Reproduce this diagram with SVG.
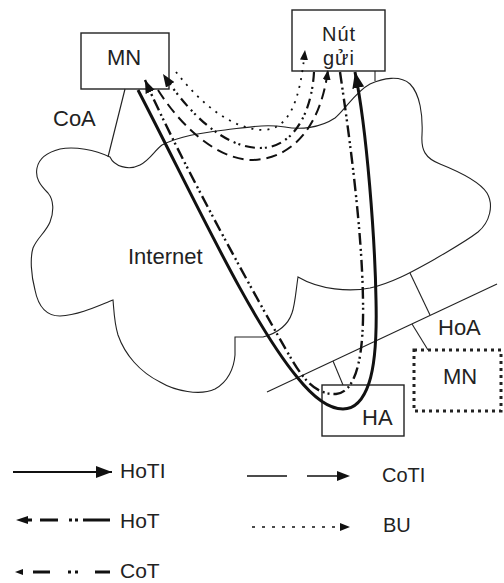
<svg xmlns="http://www.w3.org/2000/svg" width="504" height="583" viewBox="0 0 504 583">
<style>
.lbl{font-family:"Liberation Sans",Arial,sans-serif;font-size:22px;fill:#222}
.nl{font-family:"Liberation Sans",Arial,sans-serif;font-size:20px;letter-spacing:1px;fill:#222}
.lg{font-family:"Liberation Sans",Arial,sans-serif;font-size:21px;fill:#222}
.lg2{font-family:"Liberation Sans",Arial,sans-serif;font-size:20px;fill:#222}
.box{fill:none;stroke:#222;stroke-width:1.4}
.thin{fill:none;stroke:#222;stroke-width:1.1}
.c{fill:none;stroke:#111;stroke-linecap:butt}
.hoti{stroke-width:3}
.hot{stroke-width:2.4;stroke-dasharray:12 4 2 3 2 4}
.coti{stroke-width:2;stroke-dasharray:11 6}
.cot{stroke-width:2.2;stroke-dasharray:10 5 2 3 2 5}
.bu{stroke-width:1.8;stroke-dasharray:2 6}
</style>
<defs>
<marker id="ahL" viewBox="0 0 16 12" refX="16" refY="6" markerWidth="16" markerHeight="12" markerUnits="userSpaceOnUse" orient="auto"><path d="M0,0 L16,6 L0,12 z" fill="#111"/></marker>
<marker id="ahM" viewBox="0 0 13 10" refX="13" refY="5" markerWidth="13" markerHeight="10" markerUnits="userSpaceOnUse" orient="auto"><path d="M0,0 L13,5 L0,10 z" fill="#111"/></marker>
<marker id="ahS" viewBox="0 0 10 8" refX="10" refY="4" markerWidth="10" markerHeight="8" markerUnits="userSpaceOnUse" orient="auto"><path d="M0,0 L10,4 L0,8 z" fill="#111"/></marker>
<marker id="stM" viewBox="0 0 12 8" refX="0" refY="4" markerWidth="12" markerHeight="8" markerUnits="userSpaceOnUse" orient="auto-start-reverse"><path d="M0,0 L12,4 L0,8 z" fill="#111"/></marker>
<marker id="stS" viewBox="0 0 8 6" refX="0" refY="3" markerWidth="8" markerHeight="6" markerUnits="userSpaceOnUse" orient="auto-start-reverse"><path d="M0,0 L8,3 L0,6 z" fill="#111"/></marker>
</defs>
<rect x="0" y="0" width="504" height="583" fill="#fff"/>

<g id="internet">
<path class="thin" d="M110,157 C114,166 128,171 140,165 C150,160 155,150 162,145 C180,136 200,133 225,130 C250,127 265,124 285,127 C300,130 320,128 335,118 C345,110 355,92 370,84 C383,78 400,75 410,84 C420,94 423,115 422,135 C421,150 425,158 440,164 C460,172 480,182 487,193 C494,205 490,222 478,232 C465,242 450,250 435,259 C415,270 395,282 370,288 C350,292 320,290 298,277 C296,290 295,305 292,313 C288,325 278,333 263,337 L235,337 L235,355 C234,368 228,382 215,389 C200,396 175,391 160,382 C140,372 125,355 118,335 C114,322 114,310 113,300 C100,305 80,315 60,316 C45,316 38,305 35,290 C31,275 30,258 33,248 C37,238 46,232 50,222 C54,212 54,200 48,193 C40,185 35,178 37,168 C39,158 48,152 60,149 C75,146 95,150 110,157 Z"/>
<text class="lbl" x="128" y="264">Internet</text>
</g>

<g id="links">
<line class="thin" x1="125" y1="89" x2="108" y2="157"/>
<line class="thin" x1="375" y1="71" x2="375" y2="81"/>
<line class="thin" x1="267" y1="392" x2="497" y2="284"/>
<line class="thin" x1="410" y1="273" x2="430" y2="315"/>
<line class="thin" x1="412" y1="324" x2="428" y2="350"/>
<line class="thin" x1="333" y1="361" x2="343" y2="385"/>
<text class="lbl" x="53" y="126">CoA</text>
<text class="lbl" x="438" y="335">HoA</text>
</g>

<g id="mn">
<rect class="box" x="81" y="33" width="88" height="56"/>
<text class="lbl" x="107" y="65">MN</text>
</g>

<g id="nut-gui">
<rect class="box" x="292" y="10" width="93" height="61"/>
<text class="nl" x="322" y="41">Nút</text>
<text class="nl" x="323" y="65">gửi</text>
</g>

<g id="ha">
<rect class="box" x="322" y="385" width="82" height="51"/>
<text class="lbl" x="362" y="425">HA</text>
</g>

<g id="mn-home">
<rect x="414" y="350" width="87" height="61" fill="none" stroke="#222" stroke-width="3" stroke-dasharray="3 4"/>
<text class="lbl" x="443" y="384">MN</text>
</g>

<g id="connectors">
<path class="c hoti" marker-end="url(#ahL)" d="M138,90 C195,200 250,320 297,377 C313,397 328,409 343,409 C356,409 364,398 369,383 C375,365 377,340 376,300 C375,240 367,130 355,72"/>
<path class="c hot" marker-end="url(#ahM)" d="M340,72 C350,140 362,230 363,300 C364,350 358,392 336,394 C318,395 305,382 292,360 C260,305 180,160 145,80"/>
<path class="c coti" marker-end="url(#ahS)" d="M158,90 C180,125 215,158 250,160 C290,160 320,130 328,70"/>
<path class="c cot" marker-end="url(#ahM)" d="M314,72 C312,110 295,148 260,148 C225,148 190,115 163,74"/>
<path class="c bu" marker-end="url(#ahS)" d="M176,72 C198,100 228,128 262,130 C290,130 300,100 305,50"/>
</g>

<g id="legend">
<line class="c" stroke-width="2" x1="13" y1="472" x2="112" y2="472" marker-end="url(#ahL)"/>
<text class="lg" x="120" y="478">HoTI</text>
<line class="c" stroke-width="3" x1="28" y1="520" x2="110" y2="520" stroke-dasharray="4 8 18 11 3 3 3 5 27 10" marker-start="url(#stM)"/>
<text class="lg" x="120" y="528">HoT</text>
<line class="c" stroke-width="3" x1="23" y1="572" x2="110" y2="572" stroke-dasharray="0 10 17 18 3 4 3 17 15 10" marker-start="url(#stS)"/>
<text class="lg" x="120" y="578">CoT</text>
<line class="c" stroke-width="1.6" x1="247" y1="476" x2="350" y2="476" stroke-dasharray="40 20" marker-end="url(#ahM)"/>
<text class="lg2" x="382" y="482">CoTI</text>
<line class="c" stroke-width="1.6" x1="252" y1="527" x2="350" y2="527" stroke-dasharray="3 7" marker-end="url(#ahS)"/>
<text class="lg2" x="383" y="532">BU</text>
</g>
</svg>
